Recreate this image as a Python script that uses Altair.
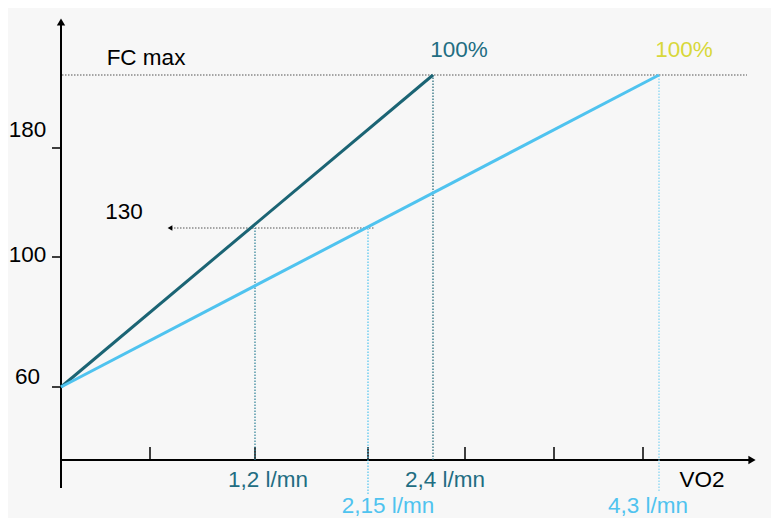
import altair as alt
import pandas as pd

# Schematic diagram: positions are in abstract drawing units (origin = axes crossing)
Y_TICK_LABELS = ["60", "100", "180"]
Y_TICK_POS = [73, 203, 312]
Y_LABEL_POS = [83, 205, 330]
X_TICK_POS = [89, 194, 307, 404, 493, 582]

REST = 73        # FC de repos (60)
FCMAX = 385      # FC max
HR130 = 232      # 130

# VO2 reference points
VO2_LABELS = ["1,2 l/mn", "2,4 l/mn", "2,15 l/mn", "4,3 l/mn"]
VO2_POS = [194, 372, 307, 598]
VO2_TOP = [HR130, FCMAX, HR130, FCMAX]
VO2_BOTTOM = [0, 0, -34, -31]
VO2_LABEL_X = [207, 384, 327, 587]
VO2_LABEL_Y = [-20, -20, -46, -46]

DARK = "#1b6474"
LIGHT = "#4fc3ef"
TEAL_TXT = "#226d82"
YELLOW = "#d8d83a"
VO2_LINE_COLORS = ["#2a7f95", DARK, LIGHT, "#7fd3f2"]
VO2_TEXT_COLORS = [TEAL_TXT, TEAL_TXT, LIGHT, LIGHT]

# Two subjects: lines from rest HR to FC max
SUBJECT = ["sédentaire", "entraîné"]
VO2_MAX_POS = [372, 598]
SUBJECT_COLORS = [DARK, LIGHT]

xs = alt.Scale(domain=[-53, 710], nice=False, zero=False)
ys = alt.Scale(domain=[-58, 452], nice=False, zero=False)
FONT = "Liberation Sans"
FS = 22.5


def seg(df, **mk):
    return alt.Chart(df).mark_rule(**mk).encode(
        x=alt.X("x:Q", scale=xs, axis=None),
        y=alt.Y("y:Q", scale=ys, axis=None),
        x2="x2:Q",
        y2="y2:Q",
    )


def txt(df, **mk):
    return alt.Chart(df).mark_text(font=FONT, fontSize=FS, **mk).encode(
        x=alt.X("x:Q", scale=xs, axis=None),
        y=alt.Y("y:Q", scale=ys, axis=None),
        text="t:N",
        color=alt.Color("c:N", scale=None),
    )


def pt(df, **mk):
    return alt.Chart(df).mark_point(filled=True, opacity=1, color="black", **mk).encode(
        x=alt.X("x:Q", scale=xs, axis=None),
        y=alt.Y("y:Q", scale=ys, axis=None),
    )


layers = []

# axes
axes_df = pd.DataFrame({"x": [0, 0], "y": [-28, 0], "x2": [0, 690], "y2": [436, 0]})
layers.append(seg(axes_df, color="black", strokeWidth=2))
layers.append(pt(pd.DataFrame({"x": [0], "y": [438]}), shape="triangle-up", size=70))
layers.append(pt(pd.DataFrame({"x": [691], "y": [0]}), shape="triangle-right", size=70))

# ticks
ytick_df = pd.DataFrame({"x": [-9] * 3, "x2": [0] * 3, "y": Y_TICK_POS, "y2": Y_TICK_POS})
layers.append(seg(ytick_df, color="black", strokeWidth=1.5))
xtick_df = pd.DataFrame({"x": X_TICK_POS, "x2": X_TICK_POS, "y": [0] * 6, "y2": [13] * 6})
layers.append(seg(xtick_df, color="black", strokeWidth=1.5))

# FC max dotted line and 130 dotted line
hdot = pd.DataFrame({"x": [1, 110], "x2": [686, 314], "y": [FCMAX, HR130], "y2": [FCMAX, HR130]})
layers.append(seg(hdot, color="#555555", strokeWidth=1.2, strokeDash=[1.5, 1.5]))
layers.append(pt(pd.DataFrame({"x": [109], "y": [HR130]}), shape="triangle-left", size=30))

# vertical dotted lines
vdf = pd.DataFrame({"x": VO2_POS, "x2": VO2_POS, "y": VO2_BOTTOM, "y2": VO2_TOP, "c": VO2_LINE_COLORS})
layers.append(
    alt.Chart(vdf).mark_rule(strokeWidth=1.2, strokeDash=[1.5, 1.5]).encode(
        x=alt.X("x:Q", scale=xs, axis=None),
        y=alt.Y("y:Q", scale=ys, axis=None),
        x2="x2:Q",
        y2="y2:Q",
        color=alt.Color("c:N", scale=None),
    )
)

# main lines
ldf = pd.DataFrame({"x": [0, 0], "y": [REST, REST], "x2": VO2_MAX_POS, "y2": [FCMAX, FCMAX], "c": SUBJECT_COLORS, "s": SUBJECT})
layers.append(
    alt.Chart(ldf).mark_rule(strokeWidth=3).encode(
        x=alt.X("x:Q", scale=xs, axis=None),
        y=alt.Y("y:Q", scale=ys, axis=None),
        x2="x2:Q",
        y2="y2:Q",
        color=alt.Color("c:N", scale=None),
    )
)

# texts
ylab = pd.DataFrame({"x": [-33.5] * 3, "y": Y_LABEL_POS, "t": Y_TICK_LABELS, "c": ["black"] * 3})
layers.append(txt(ylab, align="center", baseline="middle"))

other = pd.DataFrame({
    "x": [85, 63, 641, 398, 623],
    "y": [402, 248, -20, 410, 410],
    "t": ["FC max", "130", "VO2", "100%", "100%"],
    "c": ["black", "black", "black", TEAL_TXT, YELLOW],
})
layers.append(txt(other, align="center", baseline="middle"))

vlab = pd.DataFrame({"x": VO2_LABEL_X, "y": VO2_LABEL_Y, "t": VO2_LABELS, "c": VO2_TEXT_COLORS})
layers.append(txt(vlab, align="center", baseline="middle"))

chart = alt.layer(*layers).properties(
    width=763, height=510, background="#f7f7f7", padding=0,
    autosize=alt.AutoSizeParams(type="none"),
).configure_view(stroke=None)

chart.save("out.html", embed_options={"renderer": "svg", "actions": False})
